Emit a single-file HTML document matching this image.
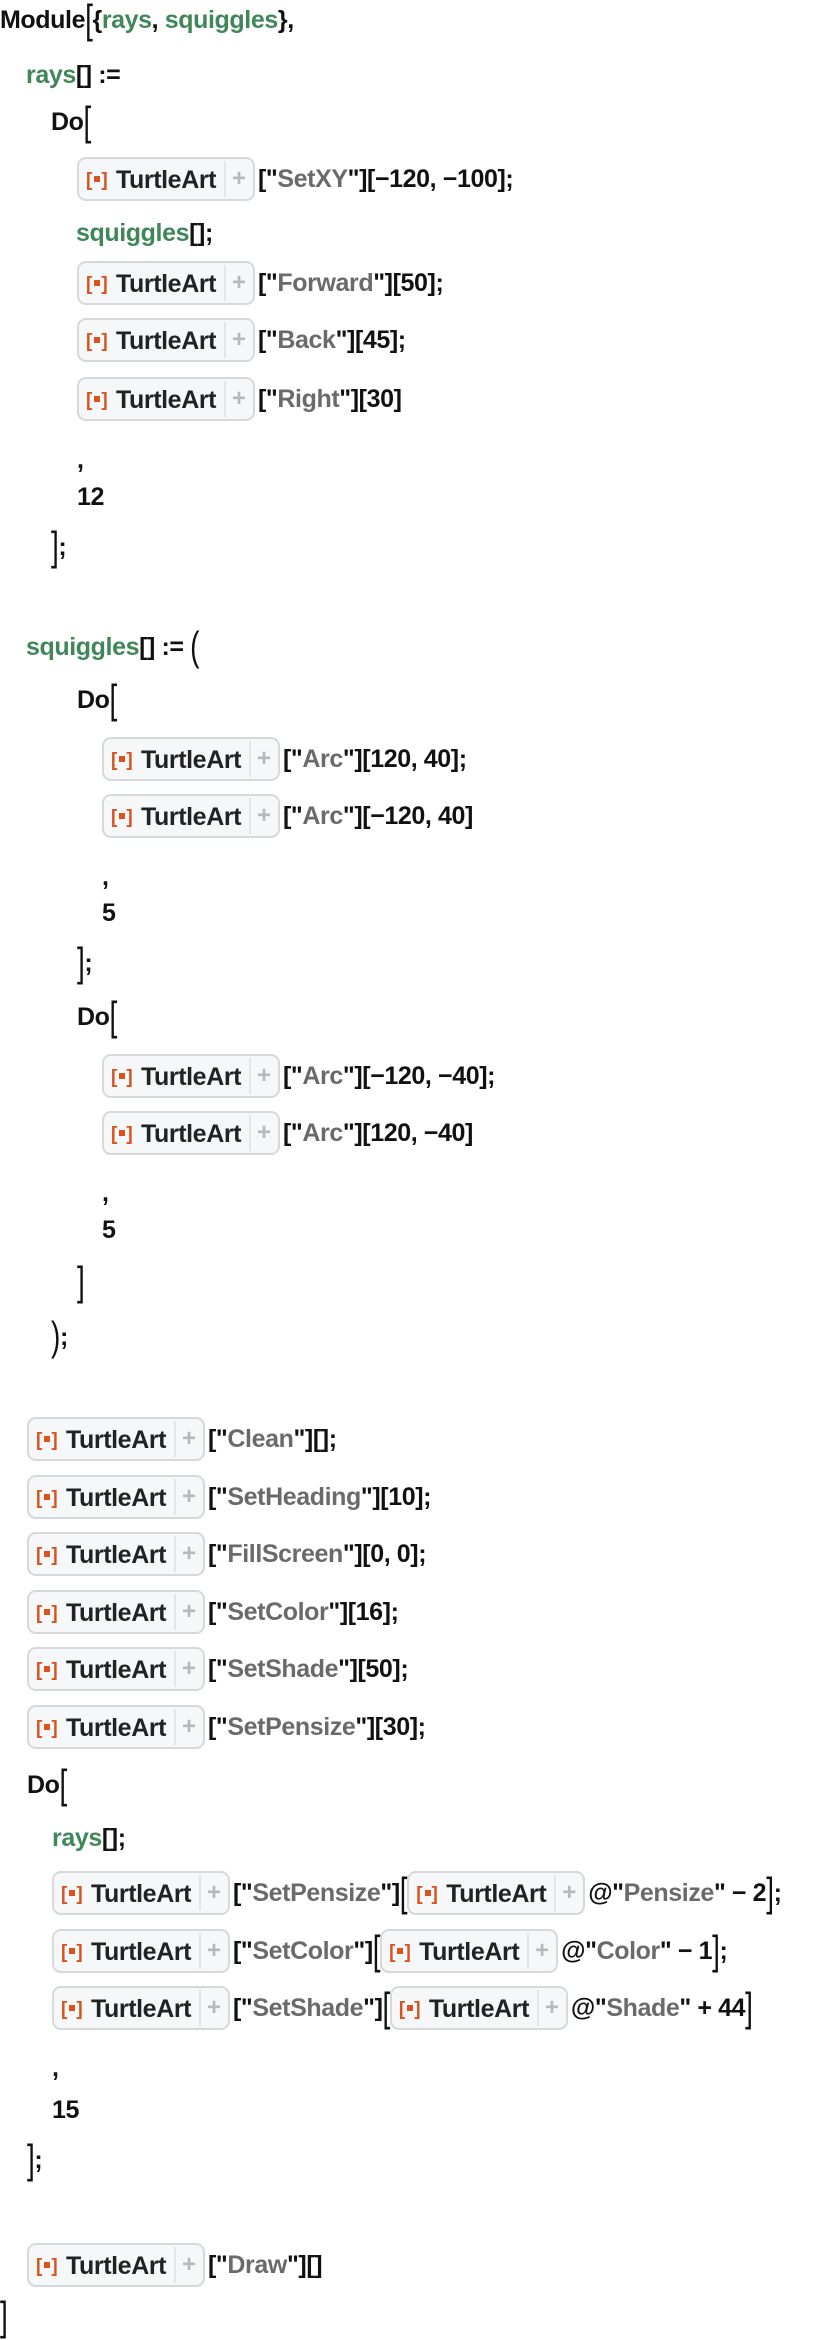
<!DOCTYPE html>
<html><head><meta charset="utf-8"><style>
html,body{margin:0;padding:0;background:#fff;}
body{width:818px;height:2330px;position:relative;overflow:hidden;font-family:"Liberation Sans",sans-serif;font-size:25px;font-weight:bold;letter-spacing:-0.4px;color:#111;}
.l{position:absolute;height:44px;display:flex;align-items:center;white-space:pre;}
.g{color:#3f8759;}
.s{color:#6a6a6a;}
.b{display:inline-flex;align-items:center;box-sizing:border-box;width:178px;height:44px;border:2px solid #d6d8da;border-radius:9px;background:#f6f7f8;position:relative;margin-right:3px;}
.ic{position:absolute;left:7px;top:11px;color:#d9531e;font-size:19px;font-weight:bold;letter-spacing:1px;}
.ic i{display:inline-block;width:6px;height:6px;background:#d9531e;vertical-align:middle;margin:0 1px 3px 1px;}
.tx{position:absolute;left:37px;top:7px;color:#222;}
.dv{position:absolute;left:145px;top:2px;width:2px;height:36px;background:#e4e5e6;}
.pl{position:absolute;left:153px;top:6px;color:#b8b8b8;font-size:24px;font-weight:bold;}
.bk{display:inline-block;transform:scaleY(1.45);font-size:28px;font-weight:normal;}
</style></head><body>

<div class="l" style="top:-2px;left:0">Module<span class="bk">[</span>{<span class="g">rays</span>, <span class="g">squiggles</span>},</div>
<div class="l" style="top:53px;left:26px"><span class="g">rays</span>[] :=</div>
<div class="l" style="top:100px;left:51px">Do<span class="bk">[</span></div>
<div class="l" style="top:157px;left:77px"><span class="b"><span class="ic">[<i></i>]</span><span class="tx">TurtleArt</span><span class="dv"></span><span class="pl">+</span></span>[&quot;<span class="s">SetXY</span>&quot;][−120, −100];</div>
<div class="l" style="top:211px;left:76px"><span class="g">squiggles</span>[];</div>
<div class="l" style="top:261px;left:77px"><span class="b"><span class="ic">[<i></i>]</span><span class="tx">TurtleArt</span><span class="dv"></span><span class="pl">+</span></span>[&quot;<span class="s">Forward</span>&quot;][50];</div>
<div class="l" style="top:318px;left:77px"><span class="b"><span class="ic">[<i></i>]</span><span class="tx">TurtleArt</span><span class="dv"></span><span class="pl">+</span></span>[&quot;<span class="s">Back</span>&quot;][45];</div>
<div class="l" style="top:377px;left:77px"><span class="b"><span class="ic">[<i></i>]</span><span class="tx">TurtleArt</span><span class="dv"></span><span class="pl">+</span></span>[&quot;<span class="s">Right</span>&quot;][30]</div>
<div class="l" style="top:438px;left:77px">,</div>
<div class="l" style="top:475px;left:77px">12</div>
<div class="l" style="top:525px;left:51px"><span class="bk">]</span>;</div>

<div class="l" style="top:625px;left:26px"><span class="g">squiggles</span>[] := <span class="bk">(</span></div>
<div class="l" style="top:678px;left:77px">Do<span class="bk">[</span></div>
<div class="l" style="top:737px;left:102px"><span class="b"><span class="ic">[<i></i>]</span><span class="tx">TurtleArt</span><span class="dv"></span><span class="pl">+</span></span>[&quot;<span class="s">Arc</span>&quot;][120, 40];</div>
<div class="l" style="top:794px;left:102px"><span class="b"><span class="ic">[<i></i>]</span><span class="tx">TurtleArt</span><span class="dv"></span><span class="pl">+</span></span>[&quot;<span class="s">Arc</span>&quot;][−120, 40]</div>
<div class="l" style="top:855px;left:102px">,</div>
<div class="l" style="top:891px;left:102px">5</div>
<div class="l" style="top:941px;left:77px"><span class="bk">]</span>;</div>
<div class="l" style="top:995px;left:77px">Do<span class="bk">[</span></div>
<div class="l" style="top:1054px;left:102px"><span class="b"><span class="ic">[<i></i>]</span><span class="tx">TurtleArt</span><span class="dv"></span><span class="pl">+</span></span>[&quot;<span class="s">Arc</span>&quot;][−120, −40];</div>
<div class="l" style="top:1111px;left:102px"><span class="b"><span class="ic">[<i></i>]</span><span class="tx">TurtleArt</span><span class="dv"></span><span class="pl">+</span></span>[&quot;<span class="s">Arc</span>&quot;][120, −40]</div>
<div class="l" style="top:1171px;left:102px">,</div>
<div class="l" style="top:1208px;left:102px">5</div>
<div class="l" style="top:1260px;left:77px"><span class="bk">]</span></div>
<div class="l" style="top:1315px;left:51px"><span class="bk">)</span>;</div>

<div class="l" style="top:1417px;left:27px"><span class="b"><span class="ic">[<i></i>]</span><span class="tx">TurtleArt</span><span class="dv"></span><span class="pl">+</span></span>[&quot;<span class="s">Clean</span>&quot;][];</div>
<div class="l" style="top:1475px;left:27px"><span class="b"><span class="ic">[<i></i>]</span><span class="tx">TurtleArt</span><span class="dv"></span><span class="pl">+</span></span>[&quot;<span class="s">SetHeading</span>&quot;][10];</div>
<div class="l" style="top:1532px;left:27px"><span class="b"><span class="ic">[<i></i>]</span><span class="tx">TurtleArt</span><span class="dv"></span><span class="pl">+</span></span>[&quot;<span class="s">FillScreen</span>&quot;][0, 0];</div>
<div class="l" style="top:1590px;left:27px"><span class="b"><span class="ic">[<i></i>]</span><span class="tx">TurtleArt</span><span class="dv"></span><span class="pl">+</span></span>[&quot;<span class="s">SetColor</span>&quot;][16];</div>
<div class="l" style="top:1647px;left:27px"><span class="b"><span class="ic">[<i></i>]</span><span class="tx">TurtleArt</span><span class="dv"></span><span class="pl">+</span></span>[&quot;<span class="s">SetShade</span>&quot;][50];</div>
<div class="l" style="top:1705px;left:27px"><span class="b"><span class="ic">[<i></i>]</span><span class="tx">TurtleArt</span><span class="dv"></span><span class="pl">+</span></span>[&quot;<span class="s">SetPensize</span>&quot;][30];</div>
<div class="l" style="top:1763px;left:27px">Do<span class="bk">[</span></div>
<div class="l" style="top:1816px;left:52px"><span class="g">rays</span>[];</div>
<div class="l" style="top:1871px;left:52px"><span class="b"><span class="ic">[<i></i>]</span><span class="tx">TurtleArt</span><span class="dv"></span><span class="pl">+</span></span>[&quot;<span class="s">SetPensize</span>&quot;]<span class="bk">[</span><span class="b"><span class="ic">[<i></i>]</span><span class="tx">TurtleArt</span><span class="dv"></span><span class="pl">+</span></span>@&quot;<span class="s">Pensize</span>&quot; − 2<span class="bk">]</span>;</div>
<div class="l" style="top:1929px;left:52px"><span class="b"><span class="ic">[<i></i>]</span><span class="tx">TurtleArt</span><span class="dv"></span><span class="pl">+</span></span>[&quot;<span class="s">SetColor</span>&quot;]<span class="bk">[</span><span class="b"><span class="ic">[<i></i>]</span><span class="tx">TurtleArt</span><span class="dv"></span><span class="pl">+</span></span>@&quot;<span class="s">Color</span>&quot; − 1<span class="bk">]</span>;</div>
<div class="l" style="top:1986px;left:52px"><span class="b"><span class="ic">[<i></i>]</span><span class="tx">TurtleArt</span><span class="dv"></span><span class="pl">+</span></span>[&quot;<span class="s">SetShade</span>&quot;]<span class="bk">[</span><span class="b"><span class="ic">[<i></i>]</span><span class="tx">TurtleArt</span><span class="dv"></span><span class="pl">+</span></span>@&quot;<span class="s">Shade</span>&quot; + 44<span class="bk">]</span></div>
<div class="l" style="top:2046px;left:52px">,</div>
<div class="l" style="top:2088px;left:52px">15</div>
<div class="l" style="top:2138px;left:27px"><span class="bk">]</span>;</div>
<div class="l" style="top:2243px;left:27px"><span class="b"><span class="ic">[<i></i>]</span><span class="tx">TurtleArt</span><span class="dv"></span><span class="pl">+</span></span>[&quot;<span class="s">Draw</span>&quot;][]</div>
<div class="l" style="top:2295px;left:0"><span class="bk">]</span></div>

</body></html>
